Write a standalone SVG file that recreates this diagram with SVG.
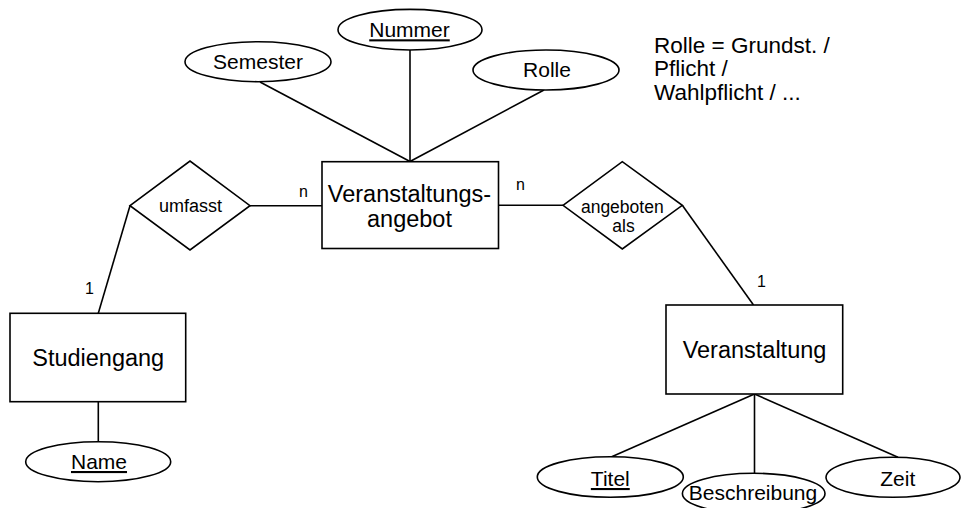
<svg xmlns="http://www.w3.org/2000/svg" width="964" height="508" viewBox="0 0 964 508">
<style>
.s{fill:#fff;stroke:#000;stroke-width:1.6}
.c line{stroke:#000;stroke-width:1.6}
text{font-family:"Liberation Sans",Arial,sans-serif;fill:#000}
.e{font-size:23.5px;text-anchor:middle}
.a{font-size:21px;text-anchor:middle}
.r{font-size:18px;text-anchor:middle}
.r2{font-size:17.5px;text-anchor:middle}
.l{font-size:16px}
.n{font-size:22.5px}
.u{text-decoration:underline}
</style>
<rect width="964" height="508" fill="#fff"/>
<g id="connectors" class="c">
<line x1="260" y1="82" x2="410" y2="161.5"/>
<line x1="410" y1="50" x2="410" y2="161.5"/>
<line x1="544" y1="90" x2="410" y2="161.5"/>
<line x1="250" y1="205.7" x2="322" y2="205.7"/>
<line x1="130" y1="205.7" x2="98.3" y2="313.3"/>
<line x1="98.3" y1="401.7" x2="98.3" y2="441.7"/>
<line x1="498.5" y1="205.3" x2="563" y2="205.3"/>
<line x1="682.3" y1="205.3" x2="753.5" y2="305"/>
<line x1="754.5" y1="394" x2="611.7" y2="456.7"/>
<line x1="754.5" y1="394" x2="754.5" y2="473.3"/>
<line x1="754.5" y1="394" x2="898" y2="457.3"/>
</g>
<g id="labels">
<text class="l" x="299" y="197">n</text>
<text class="l" x="516" y="190">n</text>
<text class="l" x="85" y="294">1</text>
<text class="l" x="757" y="287">1</text>
</g>
<g id="note">
<text class="n" x="654" y="53">Rolle = Grundst. /</text>
<text class="n" x="654" y="76">Pflicht /</text>
<text class="n" x="654" y="100">Wahlpflicht / ...</text>
</g>
<g id="Veranstaltungsangebot">
<rect class="s" x="322" y="161.7" width="176.5" height="86.8"/>
<text class="e" x="409.5" y="201.7">Veranstaltungs-</text>
<text class="e" x="409.5" y="226.7">angebot</text>
</g>
<g id="Semester">
<ellipse class="s" cx="258" cy="61.7" rx="73" ry="20"/>
<text class="a" x="258" y="69.3">Semester</text>
</g>
<g id="Nummer">
<ellipse class="s" cx="410" cy="29.7" rx="72" ry="20.3"/>
<text class="a u" x="409.5" y="37.3">Nummer</text>
</g>
<g id="Rolle">
<ellipse class="s" cx="546" cy="70" rx="73" ry="20"/>
<text class="a" x="547" y="77">Rolle</text>
</g>
<g id="umfasst">
<polygon class="s" points="130,205.7 190,161 250,205.7 190,250"/>
<text class="r" x="190.5" y="211.7">umfasst</text>
</g>
<g id="angeboten_als">
<polygon class="s" points="563,205.3 622.3,161.7 682.3,205.3 622.3,249"/>
<text class="r2" x="622.3" y="212.5">angeboten</text>
<text class="r2" x="623.5" y="232">als</text>
</g>
<g id="Studiengang">
<rect class="s" x="10" y="313.3" width="175.7" height="88.4"/>
<text class="e" x="98.2" y="365.7">Studiengang</text>
</g>
<g id="Name">
<ellipse class="s" cx="98.2" cy="461.7" rx="72.5" ry="20"/>
<text class="a u" x="99" y="469">Name</text>
</g>
<g id="Veranstaltung">
<rect class="s" x="666" y="305" width="176.7" height="89"/>
<text class="e" x="754.5" y="358.3">Veranstaltung</text>
</g>
<g id="Titel">
<ellipse class="s" cx="610.3" cy="477" rx="73" ry="20.3"/>
<text class="a u" x="610.3" y="486">Titel</text>
</g>
<g id="Beschreibung">
<ellipse class="s" cx="753.7" cy="493.5" rx="71.3" ry="20.2"/>
<text class="a" x="753" y="499.5">Beschreibung</text>
</g>
<g id="Zeit">
<ellipse class="s" cx="893" cy="477.3" rx="67" ry="20"/>
<text class="a" x="897.8" y="486">Zeit</text>
</g>
</svg>
